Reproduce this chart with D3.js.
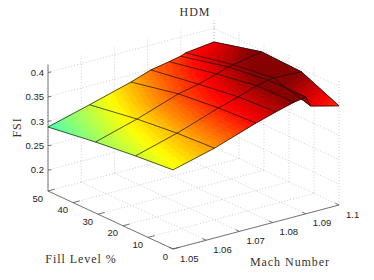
<!DOCTYPE html>
<html lang="en">
<head>
  <meta charset="UTF-8">
  <title>HDM</title>
  <style>
    html, body { margin: 0; padding: 0; background: #fff; }
    svg { display: block; }
    .tick-label { font-family: "Liberation Sans", sans-serif; font-size: 9.5px; fill: #222; }
    .axis-title { font-family: "Liberation Serif", serif; font-size: 12px; fill: #333; letter-spacing: 0.95px; }
  </style>
  <script src="https://d3js.org/d3.v7.min.js"></script>
</head>
<body>
  <div id="chart"></div>

  <script>
  // surface samples
  const machValues = [1.05, 1.0625, 1.075, 1.081, 1.0865, 1.09, 1.0915, 1.1];
  const fillValues = [50, 31, 15, 0];
  const fsi50 = [0.288, 0.311, 0.335, 0.349, 0.356, 0.361, 0.365, 0.372];
  const fsi31 = [0.3025, 0.327, 0.356, 0.365, 0.376, 0.384, 0.386, 0.397];
  const fsi15 = [0.312, 0.336, 0.365, 0.377, 0.390, 0.395, 0.397, 0.394];
  const fsi0  = [0.319, 0.341, 0.370, 0.382, 0.392, 0.396, 0.375, 0.360];
  const fsiRows = [fsi50, fsi31, fsi15, fsi0];

  const machTicks = [1.05, 1.06, 1.07, 1.08, 1.09, 1.1];
  const machLabels = ['1.05', '1.06', '1.07', '1.08', '1.09', '1.1'];
  const fillTicks = [50, 40, 30, 20, 10, 0];
  const fsiTicks = [0.2, 0.25, 0.3, 0.35, 0.4];
  const fsiLabels = ['0.2', '0.25', '0.3', '0.35', '0.4'];

  const W = 374, H = 280;
  const svg = d3.select('#chart').append('svg').attr('width', W).attr('height', H);

  // oblique projection of the box
  const fillFrac = d3.scaleLinear().domain([50, 0]).range([0, 1]);
  const machFrac = d3.scaleLinear().domain([1.05, 1.1]).range([0, 1]);
  const zPx = d3.scaleLinear().domain([0.157, 0.416]).range([0, 126.5]);
  const project = (f, m, z) => {
    const a = fillFrac(f), b = machFrac(m);
    return [48 + 125 * a + 166 * b, 191 + 58 * a - 44 * b - zPx(z)];
  };
  const zMin = zPx.domain()[0], zMax = zPx.domain()[1];
  const line = d3.line();

  // jet colormap, 64 steps
  function jet(t) {
    const c = v => Math.round(255 * Math.max(0, Math.min(1, v)));
    return `rgb(${c(1.5 - Math.abs(4 * t - 3))},${c(1.5 - Math.abs(4 * t - 2))},${c(1.5 - Math.abs(4 * t - 1))})`;
  }
  const colorT = d3.scaleLinear().domain([0.288, 0.397]).range([0.45, 1.02]).clamp(true);
  const zColor = z => {
    const t = Math.min(0.999, colorT(z));
    return jet((Math.floor(t * 64) + 0.5) / 64);
  };

  // dotted grid on floor and the two back walls
  const gridSegs = [];
  fillTicks.forEach(f => {
    gridSegs.push([project(f, 1.05, zMin), project(f, 1.1, zMin)]);
    gridSegs.push([project(f, 1.1, zMin), project(f, 1.1, zMax)]);
  });
  machTicks.forEach(m => {
    gridSegs.push([project(50, m, zMin), project(0, m, zMin)]);
    gridSegs.push([project(50, m, zMin), project(50, m, zMax)]);
  });
  fsiTicks.forEach(z => {
    gridSegs.push([project(50, 1.05, z), project(50, 1.1, z)]);
    gridSegs.push([project(50, 1.1, z), project(0, 1.1, z)]);
  });
  svg.append('g').selectAll('path').data(gridSegs).join('path')
    .attr('d', d => line(d))
    .attr('fill', 'none')
    .attr('stroke', '#c2c2c2')
    .attr('stroke-width', 0.8)
    .attr('stroke-dasharray', '1,2');

  // axes
  const axisSegs = [
    [project(50, 1.05, zMin), project(50, 1.05, zMax)],
    [project(50, 1.05, zMin), project(0, 1.05, zMin)],
    [project(0, 1.05, zMin), project(0, 1.1, zMin)]
  ];
  fsiTicks.forEach(z => axisSegs.push([project(50, 1.05, z), project(49, 1.05, z).map((v, i) => i ? v - 1.4 : v + 0.8)]));
  fillTicks.forEach(f => axisSegs.push([project(f, 1.05, zMin), project(f, 1.052, zMin)]));
  machTicks.forEach(m => axisSegs.push([project(0, m, zMin), project(1.5, m, zMin)]));
  svg.append('g').selectAll('path').data(axisSegs).join('path')
    .attr('d', d => line(d))
    .attr('fill', 'none')
    .attr('stroke', '#555')
    .attr('stroke-width', 0.8);

  // shaded surface: back cells first, each cell split up so the colour steps show
  const surface = svg.append('g');
  for (let i = 0; i < fillValues.length - 1; i++) {
    for (let j = machValues.length - 2; j >= 0; j--) {
      const NU = 24;
      const NV = Math.max(3, Math.round((machValues[j + 1] - machValues[j]) * 1600));
      const sub = [];
      for (let u = 0; u < NU; u++) {
        for (let v = NV - 1; v >= 0; v--) {
          const at = (p, q) => {
            const f = d3.interpolateNumber(fillValues[i], fillValues[i + 1])(p);
            const m = d3.interpolateNumber(machValues[j], machValues[j + 1])(q);
            const z = d3.interpolateNumber(
              d3.interpolateNumber(fsiRows[i][j], fsiRows[i][j + 1])(q),
              d3.interpolateNumber(fsiRows[i + 1][j], fsiRows[i + 1][j + 1])(q))(p);
            return { pt: project(f, m, z), z };
          };
          const cs = [at(u / NU, v / NV), at(u / NU, (v + 1) / NV), at((u + 1) / NU, (v + 1) / NV), at((u + 1) / NU, v / NV)];
          sub.push({ pts: cs.map(c => c.pt), z: d3.mean(cs, c => c.z) });
        }
      }
      surface.append('g').selectAll('path').data(sub).join('path')
        .attr('d', d => line(d.pts) + 'Z')
        .attr('fill', d => zColor(d.z))
        .attr('stroke', d => zColor(d.z))
        .attr('stroke-width', 0.7)
        .attr('stroke-linejoin', 'round');
    }
  }

  // mesh lines
  const meshSegs = [];
  fillValues.forEach((f, i) => meshSegs.push(machValues.map((m, j) => project(f, m, fsiRows[i][j]))));
  machValues.forEach((m, j) => meshSegs.push(fillValues.map((f, i) => project(f, m, fsiRows[i][j]))));
  surface.append('g').selectAll('path').data(meshSegs).join('path')
    .attr('d', d => line(d))
    .attr('fill', 'none')
    .attr('stroke', '#111')
    .attr('stroke-width', 0.7)
    .attr('stroke-linejoin', 'round');

  // tick labels
  svg.append('g').selectAll('text').data(fsiTicks).join('text')
    .attr('class', 'tick-label')
    .attr('x', 44)
    .attr('y', d => project(50, 1.05, d)[1] + 3.5)
    .attr('text-anchor', 'end')
    .text((d, i) => fsiLabels[i]);
  svg.append('g').selectAll('text').data(fillTicks).join('text')
    .attr('class', 'tick-label')
    .attr('x', d => project(d, 1.05, zMin)[0] - 5)
    .attr('y', d => project(d, 1.05, zMin)[1] + 10.5)
    .attr('text-anchor', 'end')
    .text(d => d);
  svg.append('g').selectAll('text').data(machTicks).join('text')
    .attr('class', 'tick-label')
    .attr('x', d => project(0, d, zMin)[0] + 7)
    .attr('y', d => project(0, d, zMin)[1] + 12.5)
    .text((d, i) => machLabels[i]);

  // titles
  svg.append('text').attr('class', 'axis-title').attr('x', 195).attr('y', 16).attr('text-anchor', 'middle').text('HDM');
  svg.append('text').attr('class', 'axis-title').attr('x', 81).attr('y', 263).attr('text-anchor', 'middle').text('Fill Level %');
  svg.append('text').attr('class', 'axis-title').attr('x', 290).attr('y', 266).attr('text-anchor', 'middle').text('Mach Number');
  svg.append('text').attr('class', 'axis-title')
    .attr('transform', 'translate(21,127.5) rotate(-90)')
    .attr('text-anchor', 'middle')
    .text('FSI');
  </script>
</body>
</html>
